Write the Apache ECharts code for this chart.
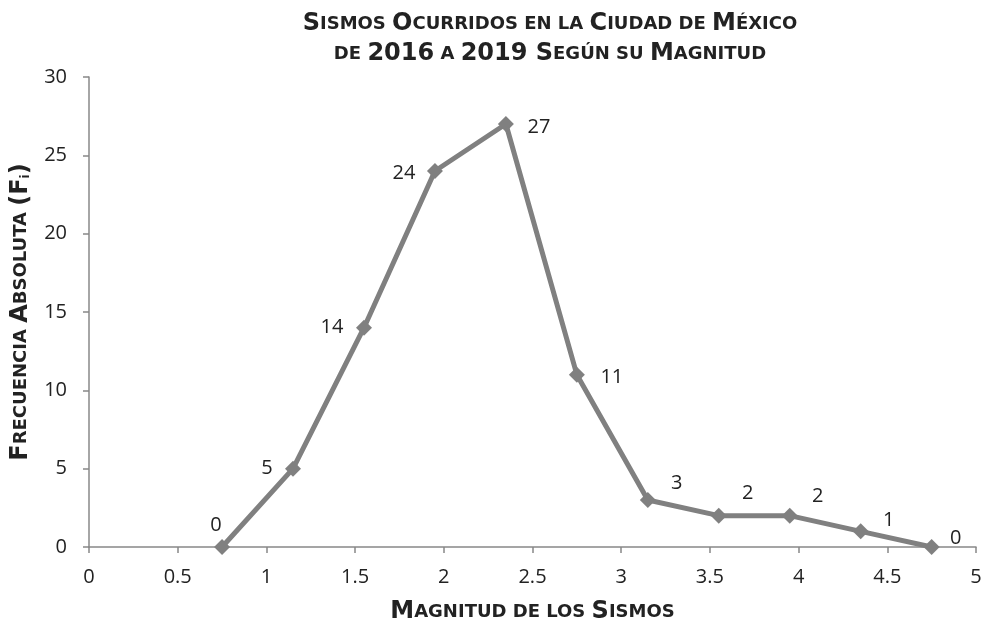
<!DOCTYPE html>
<html>
<head>
<meta charset="utf-8">
<script src="https://cdn.jsdelivr.net/npm/echarts@6/dist/echarts.min.js"></script>
<style>
  html, body { margin: 0; padding: 0; background: #fff; }
  #chart { width: 988px; height: 625px; }
</style>
</head>
<body>
<div id="chart"></div>
<script>
// datos
const magnitudes = [0.75, 1.15, 1.55, 1.95, 2.35, 2.75, 3.15, 3.55, 3.95, 4.35, 4.75]
const frecuencias = [0, 5, 14, 24, 27, 11, 3, 2, 2, 1, 0]

// desplazamiento de cada etiqueta (estilo)
const labelPos = [
  [-6, -22], [-26, 0], [-32, 0], [-31, 2], [33, 3], [35, 3],
  [29, -17], [29, -22], [28, -19], [28, -11], [24, -9]
]

const chart = echarts.init(document.getElementById("chart"))

const smallCaps = {
  b: { fontSize: 24, fontWeight: "bold", color: "#222", fontFamily: "DejaVu Sans" },
  s: { fontSize: 18, fontWeight: "bold", color: "#222", fontFamily: "DejaVu Sans" }
}

chart.setOption({
  animation: false,
  title: {
    text: "{b|S}{s|ISMOS }{b|O}{s|CURRIDOS EN LA }{b|C}{s|IUDAD DE }{b|M}{s|ÉXICO}\n{s|DE }{b|2016}{s| A }{b|2019 S}{s|EGÚN SU }{b|M}{s|AGNITUD}",
    left: 545,
    top: 4,
    textAlign: "center",
    textStyle: { rich: smallCaps, lineHeight: 30 }
  },
  grid: { left: 89, right: 12, top: 77, bottom: 78, outerBoundsMode: "none" },
  xAxis: {
    type: "value",
    min: 0,
    max: 5,
    interval: 0.5,
    name: "{b|M}{s|AGNITUD DE LOS }{b|S}{s|ISMOS}",
    nameLocation: "middle",
    nameGap: 53,
    nameTextStyle: { rich: smallCaps },
    axisLine: { lineStyle: { color: "#888", width: 1.5 } },
    axisTick: { show: true, length: 6, lineStyle: { color: "#888", width: 1.5 } },
    axisLabel: { fontSize: 20, color: "#222", fontFamily: "Open Sans", margin: 20 },
    splitLine: { show: false }
  },
  yAxis: {
    type: "value",
    min: 0,
    max: 30,
    interval: 5,
    name: "{b|F}{s|RECUENCIA }{b|A}{s|BSOLUTA }{b|(F}{sub|i}{b|)}",
    nameLocation: "middle",
    nameRotate: 90,
    nameGap: 48,
    nameTextStyle: {
      rich: Object.assign({}, smallCaps, {
        sub: { fontSize: 12, fontWeight: "bold", color: "#222", fontFamily: "DejaVu Sans", padding: [10, 0, 0, 0] }
      })
    },
    axisLine: { show: true, lineStyle: { color: "#888", width: 1.5 } },
    axisTick: { show: true, length: 6, lineStyle: { color: "#888", width: 1.5 } },
    axisLabel: { fontSize: 20, color: "#222", fontFamily: "Open Sans", margin: 22 },
    splitLine: { show: false }
  },
  series: [{
    type: "line",
    data: magnitudes.map((m, i) => ({
      value: [m, frecuencias[i]],
      label: { offset: labelPos[i] }
    })),
    lineStyle: { color: "#808080", width: 5 },
    itemStyle: { color: "#808080" },
    symbol: "diamond",
    symbolSize: 16,
    label: {
      show: true,
      position: "inside",
      formatter: p => p.value[1],
      fontSize: 20,
      color: "#222",
      fontFamily: "Open Sans"
    }
  }]
})
</script>
</body>
</html>
